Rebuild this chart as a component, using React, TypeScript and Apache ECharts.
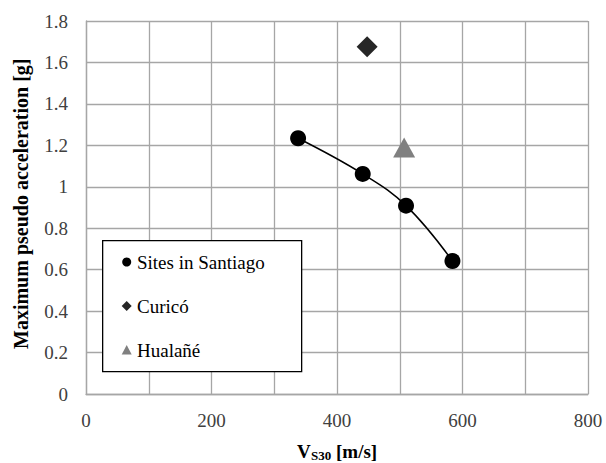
import React, { useEffect, useRef } from "react";
import * as echarts from "echarts";

const santiagoVs30 = [338, 441, 510, 584];
const santiagoPSA = [1.234, 1.062, 0.909, 0.642];
const curicoVs30 = [448];
const curicoPSA = [1.676];
const hualaneVs30 = [507];
const hualanePSA = [1.19];
const xTicks = [0, 200, 400, 600, 800];
const yTicks = [0, 0.2, 0.4, 0.6, 0.8, 1, 1.2, 1.4, 1.6, 1.8];
const legendNames = ["Sites in Santiago", "Curicó", "Hualañé"];
const yTitle = "Maximum pseudo acceleration [g]";

const FONT = "Liberation Serif";
const W = 606;

export default function App() {
  const ref = useRef<HTMLDivElement>(null);
  useEffect(() => {
    if (!ref.current) return;
    const chart = echarts.init(ref.current, undefined, { renderer: "svg" });
    const pair = (xs: number[], ys: number[]) => xs.map((x, i) => [x, ys[i]]);
    const gridLine = { show: true, lineStyle: { color: "#a6a6a6", width: 1.3 } };
    const base: any = {
      animation: false,
      backgroundColor: "#ffffff",
      grid: { left: 86, top: 21, right: 18, bottom: 69, containLabel: false, outerBoundsMode: "none" },
      xAxis: {
        type: "value",
        min: xTicks[0],
        max: xTicks[xTicks.length - 1],
        interval: 200,
        axisLine: { show: true, lineStyle: { color: "#a6a6a6", width: 1.3 } },
        axisTick: { show: false },
        minorTick: { show: false, splitNumber: 2 },
        splitLine: gridLine,
        minorSplitLine: gridLine,
        axisLabel: { show: false },
      },
      yAxis: {
        type: "value",
        min: yTicks[0],
        max: yTicks[yTicks.length - 1],
        interval: 0.2,
        axisLine: { show: true, lineStyle: { color: "#a6a6a6", width: 1.3 } },
        axisTick: { show: false },
        splitLine: gridLine,
        axisLabel: { show: false },
      },
      series: [
        {
          name: "trend",
          type: "line",
          data: pair(santiagoVs30, santiagoPSA),
          smooth: 0.4,
          showSymbol: false,
          symbol: "none",
          lineStyle: { color: "#000", width: 1.5 },
          z: 1,
          silent: true,
        },
        {
          name: legendNames[0],
          type: "scatter",
          data: pair(santiagoVs30, santiagoPSA),
          symbol: "circle",
          symbolSize: 16,
          itemStyle: { color: "#000", opacity: 1 },
          z: 3,
        },
        {
          name: legendNames[1],
          type: "scatter",
          data: pair(curicoVs30, curicoPSA),
          symbol: "diamond",
          symbolSize: 21,
          itemStyle: { color: "#262626", opacity: 1 },
          z: 3,
        },
        {
          name: legendNames[2],
          type: "scatter",
          data: pair(hualaneVs30, hualanePSA),
          symbol: "triangle",
          symbolSize: [22, 20],
          itemStyle: { color: "#808080", opacity: 1 },
          z: 3,
        },
      ],
    };
    chart.setOption(base);

    const toPx = (x: number, y: number) => chart.convertToPixel({ gridIndex: 0 }, [x, y]) as number[];
    const graphics: any[] = [];
    const fs = 19;
    xTicks.forEach((v) => {
      const p = toPx(v, 0);
      const s = String(v);
      const w = s.length * fs * 0.5;
      graphics.push({
        type: "text", left: p[0] - w / 2, top: p[1] + 26 - fs / 2, z: 20,
        style: { text: s, fontFamily: FONT, fontSize: fs, fill: "#404040" },
      });
    });
    yTicks.forEach((v) => {
      const p = toPx(0, v);
      graphics.push({
        type: "text", right: W - (p[0] - 18), top: p[1] - fs / 2, z: 20,
        style: { text: String(v), fontFamily: FONT, fontSize: fs, fill: "#404040" },
      });
    });
    graphics.push({
      type: "text", x: 11, y: 349, rotation: Math.PI / 2, z: 20,
      style: { text: yTitle, fontFamily: FONT, fontSize: 20, fontWeight: "bold", fill: "#000" },
    });
    graphics.push({
      type: "text", left: 297, top: 441.5, z: 20,
      style: { text: "V", fontFamily: FONT, fontSize: 19, fontWeight: "bold", fill: "#000" },
    });
    graphics.push({
      type: "text", left: 311, top: 448.5, z: 20,
      style: { text: "S30", fontFamily: FONT, fontSize: 13, fontWeight: "bold", fill: "#000" },
    });
    graphics.push({
      type: "text", left: 336, top: 441.5, z: 20,
      style: { text: "[m/s]", fontFamily: FONT, fontSize: 19, fontWeight: "bold", fill: "#000" },
    });
    graphics.push({
      type: "rect", left: 102, top: 240, z: 5,
      shape: { width: 199, height: 131 },
      style: { fill: "#ffffff", stroke: "#000000", lineWidth: 1.3 },
    });
    const lx = 126.7;
    const ly = [262, 306, 350];
    graphics.push({ type: "circle", z: 21, shape: { cx: lx, cy: ly[0], r: 4.5 }, style: { fill: "#000" } });
    graphics.push({
      type: "polygon", z: 21,
      shape: { points: [[lx, ly[1] - 5], [lx + 5, ly[1]], [lx, ly[1] + 5], [lx - 5, ly[1]]] },
      style: { fill: "#262626" },
    });
    graphics.push({
      type: "polygon", z: 21,
      shape: { points: [[lx, ly[2] - 5], [lx + 5, ly[2] + 4.5], [lx - 5, ly[2] + 4.5]] },
      style: { fill: "#808080" },
    });
    legendNames.forEach((n, i) => {
      graphics.push({
        type: "text", left: 137, top: ly[i] - fs / 2, z: 21,
        style: { text: n, fontFamily: FONT, fontSize: fs, fill: "#000" },
      });
    });
    chart.clear();
    chart.setOption({ ...base, graphic: graphics }, { notMerge: true });
    return () => chart.dispose();
  }, []);
  return (
    <div
      ref={ref}
      style={{ position: "fixed", left: 0, top: 0, width: 606, height: 463, background: "#fff" }}
    />
  );
}
